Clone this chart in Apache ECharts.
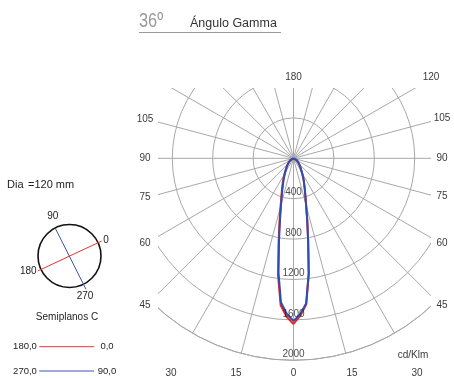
<!DOCTYPE html>
<html><head><meta charset="utf-8">
<script src="https://cdn.jsdelivr.net/npm/echarts@6/dist/echarts.min.js"></script>
<style>html,body{margin:0;padding:0;background:#fff}#c{width:454px;height:378px}</style>
</head><body><div id="c"></div>
<script>
// Gamma angles (degrees from nadir) and luminous intensity (cd/klm) per C half-plane
const gammaAngles   = [0,    2.5,  5,    7.5,  10,  12.5, 15,  17.5, 20,  25,  30,  40,  50, 60, 75, 90];
const intensityC0   = [1640, 1560, 1450, 1160, 840, 630,  485, 392,  330, 240, 174, 102, 60, 35, 15, 0];
const intensityC180 = [1640, 1570, 1460, 1170, 850, 640,  495, 400,  335, 245, 178, 105, 62, 36, 15, 0];
const intensityC90  = [1610, 1545, 1440, 1150, 835, 625,  482, 390,  326, 237, 172, 101, 59, 35, 14, 0];
const intensityC270 = [1610, 1540, 1430, 1140, 825, 615,  475, 385,  320, 232, 168, 98,  58, 34, 14, 0];
const radiusTicks = [400, 800, 1200, 1600, 2000];
const angleTickLabels = ['180', '120', '105', '90', '75', '60', '45', '30', '15', '0', '15', '30', '45', '60', '75', '90', '105'];
const legendPlanes = [['180,0', '0,0'], ['270,0', '90,0']];

function planeData(leftVals, rightVals) {
  const pts = [];
  for (let i = gammaAngles.length - 1; i >= 0; i--) pts.push([leftVals[i], 360 - gammaAngles[i]]);
  for (let i = 0; i < gammaAngles.length; i++) pts.push([rightVals[i], gammaAngles[i]]);
  return pts;
}

const FONT = "'Liberation Sans', Arial, sans-serif";
const GRID = '#a8a8a8';
const RED = '#e8262a';
const BLUE = '#2f4db0';

// label anchor positions (layout only)
const anglePos = [[293.5,77],[431,77],[442,118],[442,158],[442,196],[442,243],[442,305],[417,373],[352,373],[293.5,373],[236,373],[171,373],[145,305],[145,243],[145,197],[145,158],[145,119]];

const g = [];
// masks clipping the polar grid to its frame
[[0,0,454,88],[0,0,158,378],[431,0,23,378],[0,361,454,17]].forEach(r => g.push({
  type:'rect', shape:{x:r[0], y:r[1], width:r[2], height:r[3]}, style:{fill:'#fff'}, z:100, silent:true
}));
angleTickLabels.forEach((t, i) => g.push({
  type:'text', x:anglePos[i][0], y:anglePos[i][1], z:101,
  style:{text:t, fill:'#3a3a3a', font:'10px ' + FONT, align:'center', verticalAlign:'middle'}
}));
// title
g.push({type:'text', x:139, y:21, scaleX:0.78, z:101, style:{text:'36º', fill:'#9a9a9a', font:'21px ' + FONT, align:'left', verticalAlign:'middle'}});
g.push({type:'text', x:190, y:24, z:101, style:{text:'Ángulo Gamma', fill:'#333', font:'12.5px ' + FONT, align:'left', verticalAlign:'middle'}});
g.push({type:'line', z:101, shape:{x1:139, y1:32.5, x2:281, y2:32.5}, style:{stroke:'#9a9a9a', lineWidth:1}});
// unit
g.push({type:'text', x:413, y:355, z:50, style:{text:'cd/Klm', fill:'#3a3a3a', font:'10px ' + FONT, align:'center', verticalAlign:'middle', backgroundColor:'#fff', padding:[1,1]}});
// left panel
g.push({type:'text', x:7, y:185, z:101, style:{text:'Dia', fill:'#222', font:'11px ' + FONT, align:'left', verticalAlign:'middle'}});
g.push({type:'text', x:28, y:185, z:101, style:{text:'=120 mm', fill:'#222', font:'11px ' + FONT, align:'left', verticalAlign:'middle'}});
g.push({type:'circle', z:101, shape:{cx:69.5, cy:256, r:31.5}, style:{fill:'none', stroke:'#111', lineWidth:1.6}});
g.push({type:'line', z:102, shape:{x1:37.7, y1:271, x2:101.7, y2:241}, style:{stroke:'#f03030', lineWidth:1}});
g.push({type:'line', z:102, shape:{x1:55, y1:227.7, x2:86, y2:289.3}, style:{stroke:'#3a55b5', lineWidth:1}});
[['90',52.7,216],['0',106,240.7],['180',28.3,271.7],['270',85,296]].forEach(a => g.push({
  type:'text', x:a[1], y:a[2], z:103, style:{text:a[0], fill:'#222', font:'10px ' + FONT, align:'center', verticalAlign:'middle'}
}));
g.push({type:'text', x:67, y:317, z:101, style:{text:'Semiplanos C', fill:'#222', font:'10px ' + FONT, align:'center', verticalAlign:'middle'}});
[[346.7, '#f03030'], [371, '#3a55b5']].forEach((row, i) => {
  g.push({type:'text', x:25, y:row[0], z:101, style:{text:legendPlanes[i][0], fill:'#222', font:'9.5px ' + FONT, align:'center', verticalAlign:'middle'}});
  g.push({type:'line', z:101, shape:{x1:39.3, y1:row[0], x2:94, y2:row[0]}, style:{stroke:row[1], lineWidth:1}});
  g.push({type:'text', x:107, y:row[0], z:101, style:{text:legendPlanes[i][1], fill:'#222', font:'9.5px ' + FONT, align:'center', verticalAlign:'middle'}});
});

const chart = echarts.init(document.getElementById('c'), null, {renderer:'canvas'});
chart.setOption({
  animation:false,
  backgroundColor:'#fff',
  polar:{center:[293.5, 158.3], radius:202},
  angleAxis:{
    type:'value', min:0, max:360, interval:15, startAngle:270, clockwise:false,
    axisLine:{show:true, lineStyle:{color:GRID, width:1}},
    axisTick:{show:false}, axisLabel:{show:false},
    splitLine:{show:true, lineStyle:{color:GRID, width:1}}
  },
  radiusAxis:{
    type:'value', min:0, max:2000, interval:400,
    axisLine:{show:false}, axisTick:{show:false}, axisLabel:{show:false},
    splitLine:{show:true, lineStyle:{color:GRID, width:1}}
  },
  series:[
    {type:'line', coordinateSystem:'polar', data:planeData(intensityC180, intensityC0), showSymbol:false, lineStyle:{color:RED, width:2}, z:3},
    {type:'line', coordinateSystem:'polar', data:planeData(intensityC270, intensityC90), showSymbol:false, lineStyle:{color:BLUE, width:2}, z:4},
    {type:'scatter', coordinateSystem:'polar', data:radiusTicks.map(r => [r, 0]), symbolSize:0, z:5,
     label:{show:true, position:'top', distance:1, formatter:p => String(p.value[0]), color:'#222', fontSize:10, fontFamily:FONT}}
  ],
  graphic:{elements:g}
});
</script></body></html>
